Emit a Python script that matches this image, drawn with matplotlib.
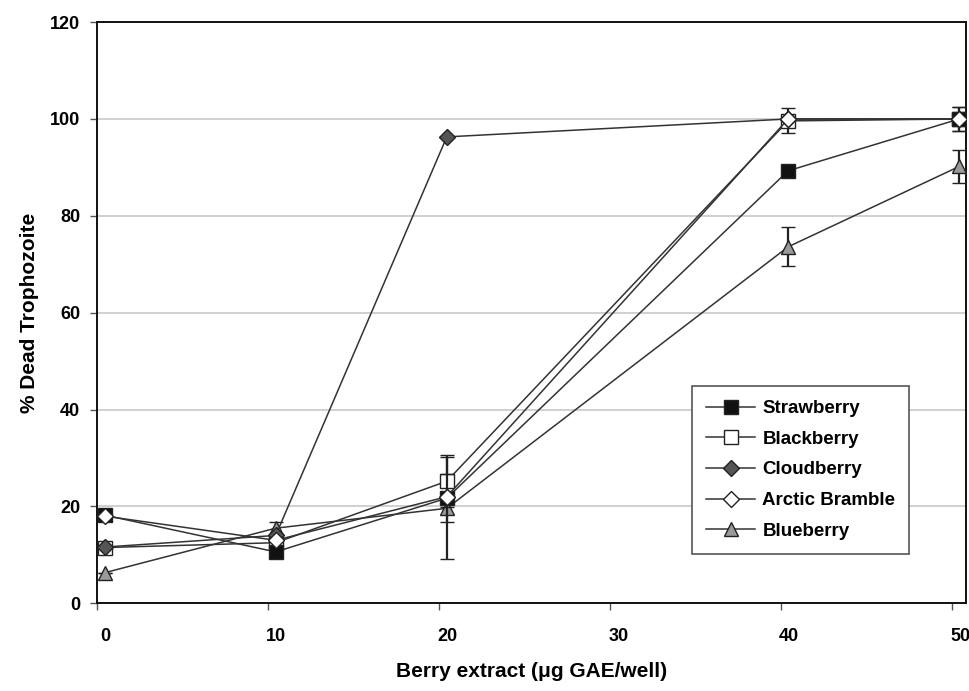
import matplotlib.pyplot as plt
import matplotlib.transforms as mtransforms
from matplotlib.lines import Line2D

plt.rcParams['font.family'] = ['Liberation Sans', 'DejaVu Sans']
plt.rcParams['font.weight'] = 'bold'

# extract dose (ug GAE/well); points sit a little right of the tick marks
doses = [0.45, 10.45, 20.45, 40.4, 50.4]

strawberry = [18.2, 10.6, 21.7, 89.3, 100]
strawberry_err = [0, 0, 5.0, 0, 2.5]
blackberry = [11.5, 12.5, 25.2, 99.6, 100]
blackberry_err = [0, 0, 5.4, 2.6, 2.5]
cloudberry = [11.6, 14.0, 96.3, 100, 100]
arctic_bramble = [18.0, 13.0, 22.0, 100, 100]
blueberry = [6.3, 15.5, 19.6, 73.6, 90.2]
blueberry_err = [0, 1.3, 10.5, 4.0, 3.4]

names = ['Strawberry', 'Blackberry', 'Cloudberry', 'Arctic Bramble', 'Blueberry']
markers = ['s', 's', 'D', 'D', '^']
faces = ['#111111', 'white', '#555555', 'white', '#9a9a9a']
sizes = [9.5, 9.5, 8, 8, 10]

fig = plt.figure(figsize=(9.69, 6.91), dpi=100)
ax = fig.add_axes([0.1, 0.127, 0.897, 0.841])

line_col = '#333333'
common = dict(color=line_col, lw=1.1, markeredgecolor='#222222',
              markeredgewidth=1.0, capsize=5, ecolor='#222222', elinewidth=1.6,
              capthick=1.6)

series = [
    (blueberry, blueberry_err, 4, 3),
    (blackberry, blackberry_err, 1, 4),
    (cloudberry, None, 2, 5),
    (strawberry, strawberry_err, 0, 6),
    (arctic_bramble, None, 3, 7),
]
for vals, err, i, z in series:
    ax.errorbar(doses, vals, yerr=err, marker=markers[i], markerfacecolor=faces[i],
                markersize=sizes[i], zorder=z, **common)

ax.set_xlim(0, 50.8)
ax.set_ylim(0, 120)
ax.set_xticks([0, 10, 20, 30, 40, 50])
ax.set_yticks(range(0, 121, 20))
ax.yaxis.grid(True, color='#c8c8c8', lw=1.2)
ax.set_axisbelow(True)

for s in ax.spines.values():
    s.set_linewidth(1.4)
    s.set_color('#111111')

ax.tick_params(axis='both', direction='out', length=5, width=1, color='#555555',
               labelsize=13, pad=13)
ax.tick_params(axis='y', pad=7)
# shift x tick labels to line up with the data points
offset = mtransforms.ScaledTranslation(8 / 100, 0, fig.dpi_scale_trans)
for lab in ax.get_xticklabels():
    lab.set_transform(lab.get_transform() + offset)

ax.set_xlabel('Berry extract (\u03bcg GAE/well)', fontsize=15, fontweight='bold', labelpad=12)
ax.set_ylabel('% Dead Trophozoite', fontsize=15, fontweight='bold', labelpad=8)

handles = [Line2D([], [], color=line_col, lw=1.1, marker=markers[i], markersize=sizes[i],
                  markerfacecolor=faces[i], markeredgecolor='#222222')
           for i in range(len(names))]
leg = ax.legend(handles, names, loc='lower left',
                bbox_to_anchor=(0.674, 0.069), fontsize=13.5, frameon=True,
                fancybox=False, edgecolor='#555555', framealpha=1,
                handlelength=2.6, handletextpad=0.4, labelspacing=0.72, borderpad=0.75)
leg.get_frame().set_linewidth(1.2)

plt.savefig('out.png', dpi=100)
